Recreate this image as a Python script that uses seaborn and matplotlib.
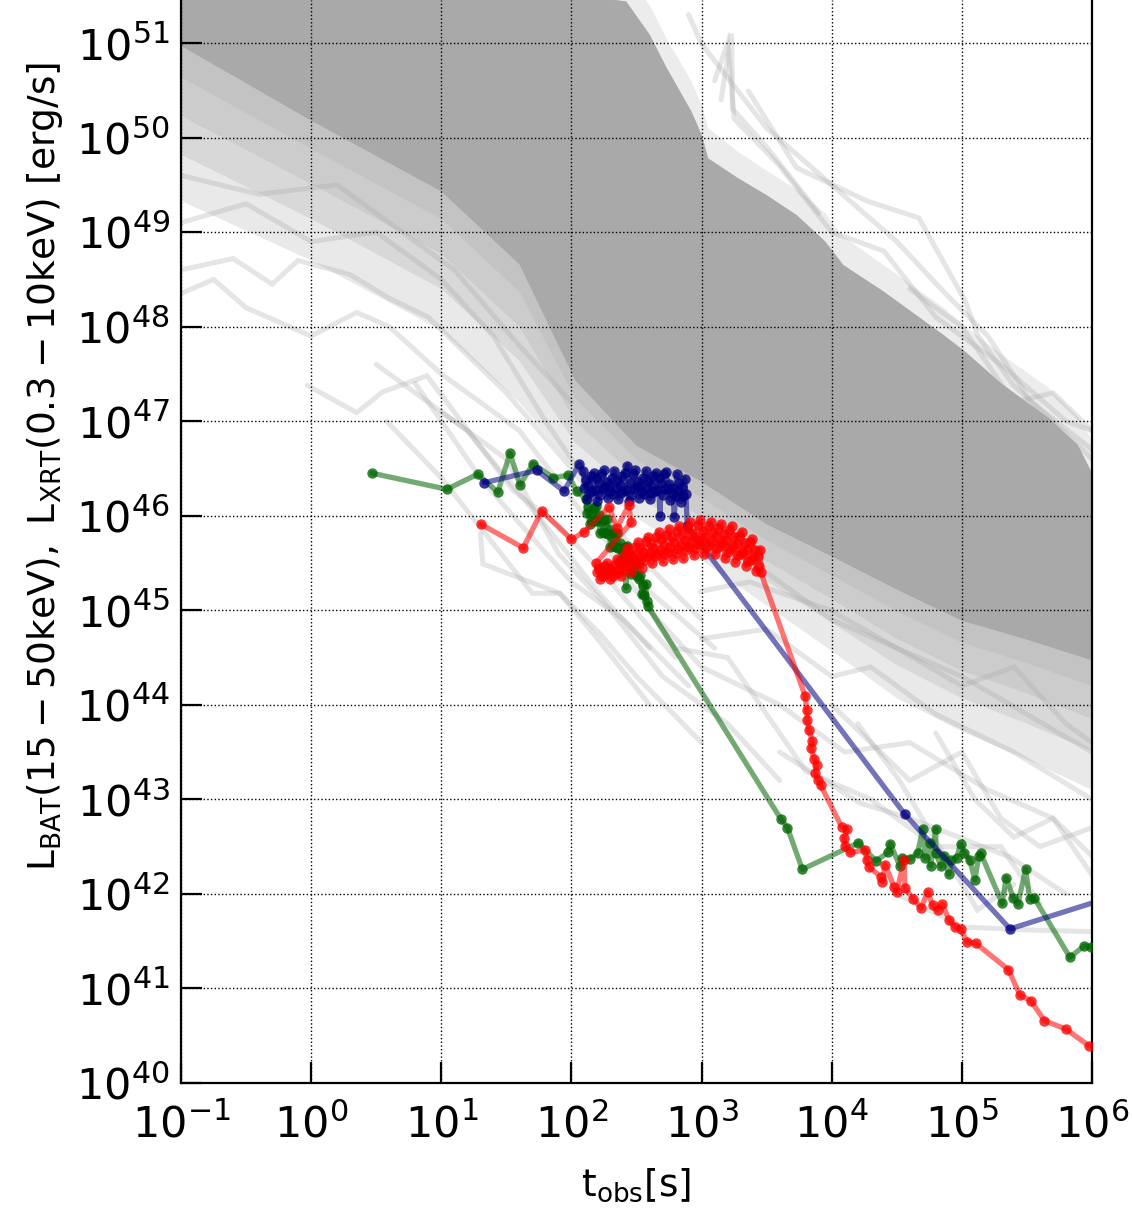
import numpy as np
import matplotlib
matplotlib.use("Agg")
import matplotlib.pyplot as plt
import matplotlib.ticker as mticker
import matplotlib.colors as mcolors
import seaborn as sns

# ---------------- data (log10 t [s], log10 L [erg/s]) ----------------
# green burst
green_t = [0.468, 1.042, 1.280, 1.434, 1.528, 1.605, 1.707, 1.861, 1.976, 2.040,
           2.11, 2.12, 2.13, 2.14, 2.15, 2.16, 2.17, 2.18, 2.19, 2.20,
           2.21, 2.22, 2.23, 2.24, 2.25, 2.26, 2.27, 2.28, 2.29, 2.30,
           2.31, 2.32, 2.33, 2.34, 2.35, 2.36, 2.37, 2.38, 2.39, 2.40,
           2.41, 2.42, 2.43, 2.44, 2.45, 2.46, 2.47, 2.48, 2.49, 2.50,
           2.51, 2.52, 2.53, 2.54, 2.55, 2.56, 2.57, 2.58, 2.585,
           3.61, 3.66, 3.774, 4.205, 4.34, 4.435, 4.45, 4.525, 4.54, 4.60, 4.66,
           4.70, 4.72, 4.755, 4.76, 4.80, 4.80, 4.84, 4.865, 4.90, 4.92, 4.96,
           4.99, 5.02, 5.06, 5.10, 5.13, 5.145, 5.31, 5.34, 5.395, 5.43, 5.49,
           5.52, 5.555, 5.83, 5.94, 5.99]
green_L = [46.45, 46.28, 46.44, 46.25, 46.66, 46.33, 46.55, 46.40, 46.43, 46.26,
           46.18, 46.03, 46.09, 45.91, 46.03, 45.94, 46.08, 45.94, 46.10, 45.95,
           46.01, 45.82, 45.93, 45.83, 45.96, 45.82, 45.97, 45.81, 45.86, 45.67,
           45.78, 45.68, 45.82, 45.67, 45.82, 45.66, 45.71, 45.53, 45.64, 45.54,
           45.67, 45.24, 45.68, 45.52, 45.57, 45.38, 45.50, 45.40, 45.52, 45.36,
           45.50, 45.33, 45.37, 45.17, 45.27, 45.16, 45.28, 45.10, 45.05,
           42.79, 42.70, 42.26, 42.54, 42.35, 42.44, 42.53, 42.29, 42.38, 42.37, 42.43,
           42.69, 42.38, 42.54, 42.30, 42.69, 42.43, 42.29, 42.40, 42.21, 42.36, 42.38,
           42.53, 42.43, 42.36, 42.15, 42.40, 42.43, 41.90, 42.17, 41.96, 41.89, 42.26,
           41.95, 41.96, 41.33, 41.45, 41.44]

# blue burst
blue_t = [1.33, 1.733, 1.943, 2.06,
          2.09, 2.10, 2.11, 2.12, 2.13, 2.14, 2.15, 2.16, 2.17, 2.18, 2.19, 2.20,
          2.21, 2.22, 2.23, 2.24, 2.25, 2.26, 2.27, 2.28, 2.29, 2.30, 2.31, 2.32,
          2.33, 2.34, 2.35, 2.36, 2.37, 2.38, 2.39, 2.40, 2.41, 2.42, 2.43, 2.44,
          2.45, 2.46, 2.47, 2.48, 2.49, 2.50, 2.51, 2.52, 2.53, 2.54, 2.55, 2.56,
          2.57, 2.58, 2.59, 2.60, 2.61, 2.62, 2.63, 2.64, 2.65, 2.66, 2.67, 2.68,
          2.69, 2.70, 2.71, 2.72, 2.73, 2.74, 2.75, 2.76, 2.77, 2.78, 2.79, 2.80,
          2.81, 2.82, 2.83, 2.84, 2.85, 2.86, 2.87, 2.88, 2.89,
          4.563, 5.37, 6.2]
blue_L = [46.35, 46.48, 46.26, 46.55,
          46.47, 46.29, 46.38, 46.18, 46.33, 46.24, 46.42, 46.26, 46.45, 46.27, 46.40, 46.16,
          46.35, 46.22, 46.44, 46.28, 46.48, 46.30, 46.36, 46.19, 46.31, 46.25, 46.40, 46.23,
          46.47, 46.29, 46.38, 46.18, 46.33, 46.24, 46.42, 46.26, 46.45, 46.27, 46.53, 46.16,
          46.35, 46.22, 46.44, 46.28, 46.48, 46.30, 46.36, 46.19, 46.31, 46.25, 46.40, 46.23,
          46.47, 46.29, 46.38, 46.18, 46.33, 46.24, 46.42, 46.26, 46.45, 46.27, 46.40, 46.00,
          46.35, 46.22, 46.44, 46.28, 46.46, 46.28, 46.34, 46.17, 46.29, 46.23, 45.99, 46.21,
          46.44, 46.26, 46.35, 46.15, 46.30, 46.21, 46.39, 46.23, 45.89,
          42.84, 41.63, 41.99]

# red burst
red_t = [1.305, 1.63, 1.772, 2.00, 2.10, 2.29, 2.35, 2.44, 2.46,
         2.19, 2.20, 2.21, 2.22, 2.23, 2.24, 2.25, 2.26, 2.27, 2.28,
         2.29, 2.30, 2.31, 2.32, 2.33, 2.34, 2.35, 2.36, 2.37, 2.38,
         2.39, 2.40, 2.41, 2.42, 2.43, 2.44, 2.45, 2.46, 2.47, 2.48,
         2.49, 2.50, 2.51, 2.52, 2.53, 2.54, 2.55, 2.56, 2.57, 2.58,
         2.59, 2.60, 2.61, 2.62, 2.63, 2.64, 2.65, 2.66, 2.67, 2.68,
         2.69, 2.70, 2.71, 2.72, 2.73, 2.74, 2.75, 2.76, 2.77, 2.78,
         2.79, 2.80, 2.81, 2.82, 2.83, 2.84, 2.85, 2.86, 2.87, 2.88,
         2.89, 2.90, 2.91, 2.92, 2.93, 2.94, 2.95, 2.96, 2.97, 2.98,
         2.99, 3.00, 3.01, 3.02, 3.03, 3.04, 3.05, 3.06, 3.07, 3.08,
         3.09, 3.10, 3.11, 3.12, 3.13, 3.14, 3.15, 3.16, 3.17, 3.18,
         3.19, 3.20, 3.21, 3.22, 3.23, 3.24, 3.25, 3.26, 3.27, 3.28,
         3.29, 3.30, 3.31, 3.32, 3.33, 3.34, 3.35, 3.36, 3.37, 3.38,
         3.39, 3.40, 3.41, 3.42, 3.43, 3.44, 3.45, 3.455,
         3.797, 3.808, 3.812, 3.826, 3.851, 3.841, 3.866, 3.885, 3.874, 3.897,
         3.915, 4.076, 4.115, 4.097, 4.102, 4.14, 4.256, 4.27, 4.29, 4.38, 4.39,
         4.41, 4.48, 4.50, 4.556, 4.563, 4.627, 4.686, 4.737, 4.775, 4.814, 4.85,
         4.904, 4.948, 4.99, 5.042, 5.105, 5.357, 5.447, 5.531, 5.634, 5.80, 5.98]
red_L = [45.91, 45.66, 46.05, 45.75, 45.83, 46.09, 45.87, 46.11, 45.93,
         45.50, 45.40, 45.45, 45.33, 45.42, 45.36, 45.47, 45.38, 45.50, 45.40,
         45.45, 45.33, 45.42, 45.36, 45.48, 45.39, 45.54, 45.43, 45.51, 45.36,
         45.50, 45.43, 45.60, 45.47, 45.66, 45.52, 45.60, 45.41, 45.57, 45.49,
         45.67, 45.52, 45.72, 45.56, 45.66, 45.45, 45.62, 45.53, 45.73, 45.57,
         45.78, 45.61, 45.70, 45.50, 45.66, 45.57, 45.77, 45.60, 45.83, 45.64,
         45.75, 45.52, 45.69, 45.60, 45.80, 45.62, 45.86, 45.67, 45.77, 45.54,
         45.72, 45.61, 45.84, 45.65, 45.89, 45.69, 45.80, 45.55, 45.74, 45.64,
         45.87, 45.67, 45.93, 45.72, 45.82, 45.58, 45.77, 45.66, 45.90, 45.70,
         45.95, 45.74, 45.84, 45.59, 45.78, 45.67, 45.89, 45.69, 45.93, 45.73,
         45.83, 45.59, 45.77, 45.66, 45.87, 45.68, 45.91, 45.71, 45.81, 45.55,
         45.74, 45.62, 45.85, 45.65, 45.89, 45.68, 45.77, 45.51, 45.70, 45.58,
         45.79, 45.59, 45.83, 45.62, 45.71, 45.47, 45.64, 45.52, 45.72, 45.53,
         45.75, 45.56, 45.64, 45.42, 45.57, 45.47, 45.64, 45.40,
         44.09, 43.94, 43.84, 43.73, 43.62, 43.54, 43.43, 43.36, 43.28, 43.20,
         43.15, 42.71, 42.69, 42.59, 42.51, 42.44, 42.46, 42.36, 42.28, 42.18, 42.13,
         42.31, 42.07, 42.02, 42.36, 42.06, 41.95, 41.85, 42.02, 41.88, 41.83, 41.89,
         41.72, 41.65, 41.63, 41.49, 41.48, 41.20, 40.93, 40.87, 40.66, 40.57, 40.39]

# background GRB sample: outline of the saturated (densest) region
core_up_t = [-1.0, 2.42, 2.60, 2.73, 2.92, 3.00, 3.05, 3.28, 3.50, 3.73, 3.95, 4.09,
             4.40, 4.86, 5.03, 5.31, 5.67, 5.89, 6.0]
core_up_L = [52.0, 51.44, 51.09, 50.74, 50.28, 50.03, 49.78, 49.57, 49.39, 49.18, 48.90, 48.65,
             48.37, 47.91, 47.73, 47.39, 47.03, 46.75, 46.45]
# thin sparse fringe just above the saturated region
fringe_up_L = [52.0, 51.7, 51.4, 51.05, 50.6, 50.35, 50.1, 49.85, 49.65, 49.45, 49.2, 48.95,
               48.65, 48.2, 48.0, 47.7, 47.35, 47.05, 46.8]
env_t = [-1.0, 0.0, 1.0, 1.6, 2.03, 2.5, 3.0, 3.5, 4.0, 4.5, 5.0, 5.5, 6.0]
core_lo_L = [50.97, 50.18, 49.43, 48.66, 47.43, 46.74, 46.36, 45.91, 45.57, 45.22, 44.89, 44.69, 44.47]
# lower edges of progressively sparser density envelopes (dense -> sparse)
env1_lo_L = [50.64, 49.88, 49.14, 48.37, 47.24, 46.59, 46.19, 45.74, 45.37, 44.99, 44.66, 44.44, 44.20]
env2_lo_L = [50.23, 49.51, 48.77, 48.00, 47.00, 46.40, 45.99, 45.52, 45.12, 44.70, 44.36, 44.12, 43.85]
env3_lo_L = [49.82, 49.14, 48.40, 47.64, 46.77, 46.21, 45.78, 45.31, 44.87, 44.42, 44.07, 43.80, 43.51]
env4_lo_L = [49.33, 48.70, 47.96, 47.20, 46.48, 45.98, 45.53, 45.05, 44.57, 44.07, 43.72, 43.42, 43.10]

# individual faint background light curves
gray_tracks = [
    ([2.9, 3.0, 3.5, 4.09, 4.5, 4.86, 5.2, 5.53, 6.0], [51.3, 50.99, 50.1, 49.39, 48.9, 48.37, 47.9, 47.21, 46.7]),
    ([3.36, 3.73, 4.27, 4.67, 5.03, 5.12, 5.39, 5.89, 6.0], [50.49, 49.68, 49.33, 49.15, 48.26, 47.91, 47.39, 46.75, 46.6]),
    ([3.1, 3.2, 3.25, 3.6, 4.0, 4.4, 4.8, 5.3, 5.8, 6.0], [50.6, 51.0, 50.2, 49.7, 49.0, 48.8, 48.1, 47.6, 47.0, 46.9]),
    ([3.15, 3.23, 3.24, 3.5, 3.9], [50.4, 51.1, 50.3, 49.9, 49.2]),
    ([4.6, 5.0, 5.4, 5.7, 6.0], [48.4, 48.0, 47.2, 47.3, 46.9]),
    ([-1.0, -0.6, -0.3, -0.1, 0.3, 0.6, 0.9, 1.5, 2.0, 2.5, 3.0], [48.6, 48.72, 48.45, 48.7, 48.55, 48.3, 48.1, 47.3, 46.5, 45.6, 44.9]),
    ([-1.0, -0.75, -0.5, 0.0, 0.35, 0.6, 1.0, 1.6, 2.1, 2.6, 3.1], [48.35, 48.5, 48.2, 47.9, 48.15, 48.0, 47.5, 46.9, 46.0, 45.2, 44.6]),
    ([-0.03, 0.35, 0.55, 0.89, 1.55, 1.9, 2.3, 2.8], [47.38, 47.09, 47.31, 47.48, 46.27, 45.9, 45.3, 44.5]),
    ([0.58, 1.0, 1.7, 1.91, 2.2, 2.6], [47.0, 46.4, 45.18, 45.18, 44.7, 44.0]),
    ([1.30, 1.32, 1.91, 2.22, 2.5, 3.0], [45.81, 45.49, 45.18, 44.75, 44.3, 43.6]),
    ([-1.0, -0.5, 0.0, 0.5, 1.0, 1.4, 1.8, 2.2], [49.1, 49.3, 48.9, 49.0, 48.5, 47.9, 47.0, 46.2]),
    ([-1.0, -0.4, 0.2, 0.7, 1.1, 1.6, 2.0], [49.6, 49.4, 49.5, 49.0, 48.6, 47.8, 47.2]),
    ([0.5, 1.2, 1.8, 2.2, 2.6], [47.6, 46.9, 45.9, 45.2, 44.6]),
    ([0.8, 1.3, 1.55, 2.0, 2.4, 2.9], [47.4, 46.4, 46.0, 45.3, 44.9, 44.2]),
    ([1.0, 1.5, 1.9, 2.3, 2.7, 3.2, 3.6], [47.1, 46.6, 45.6, 45.0, 44.3, 43.8, 43.2]),
    ([2.99, 3.37, 3.99, 4.5, 5.0, 5.5, 6.0], [45.2, 45.3, 45.0, 44.6, 44.3, 43.9, 43.5]),
    ([3.0, 3.5, 4.0, 4.3, 4.8, 5.4, 6.0], [44.7, 44.8, 44.3, 44.4, 43.9, 43.5, 43.0]),
    ([2.6, 3.0, 3.6, 4.1, 4.6, 5.2, 5.7, 6.0], [45.0, 44.4, 44.0, 43.5, 43.6, 43.1, 42.8, 42.4]),
    ([3.5, 4.0, 4.5, 5.0, 5.4, 5.8, 6.0], [45.4, 44.9, 44.6, 44.2, 44.4, 43.8, 43.6]),
    ([3.6, 4.22, 4.6, 5.37, 5.8], [43.5, 42.96, 42.8, 42.39, 42.0]),
    ([4.5, 5.01, 5.5, 6.0], [42.0, 41.65, 41.62, 41.6]),
    ([4.2, 4.52, 5.12, 5.4], [43.8, 43.2, 41.83, 42.1]),
    ([4.0, 4.6, 5.0, 5.3, 5.6, 6.0], [44.0, 43.2, 43.5, 42.8, 42.5, 42.7]),
    ([4.8, 5.1, 5.4, 5.7, 6.0], [43.7, 43.0, 42.6, 42.8, 42.2]),
    ([2.3, 2.8, 3.2, 3.8, 4.3, 4.8, 5.3, 5.6], [45.6, 44.6, 44.5, 43.3, 43.0, 42.5, 42.5, 41.9]),
]

xticks_exp = [-1, 0, 1, 2, 3, 4, 5, 6]
yticks_exp = list(range(40, 52))

# ---------------- style ----------------
sns.set_theme(style="white")
plt.rcParams["font.family"] = ["DejaVu Sans"]
plt.rcParams["mathtext.fontset"] = "dejavusans"
plt.rcParams["text.color"] = "black"
plt.rcParams["axes.labelcolor"] = "black"
plt.rcParams["xtick.color"] = "black"
plt.rcParams["ytick.color"] = "black"

W, H = 1132, 1211
fig = plt.figure(figsize=(W / 100, H / 100), dpi=100)
ax = fig.add_axes([181 / W, 128 / H, 911 / W, 1083 / H])
ax.set_xscale("log")
ax.set_yscale("log")

p10 = lambda a: np.power(10.0, np.asarray(a, dtype=float))

def band(up_t, up_L, lo_t, lo_L, alpha, z):
    xs = np.concatenate([p10(up_t), p10(lo_t)[::-1]])
    ys = np.concatenate([p10(up_L), p10(lo_L)[::-1]])
    ax.fill(xs, ys, color="darkgray", alpha=alpha, lw=0, zorder=z)

band(core_up_t, fringe_up_L, core_up_t, core_up_L, 0.22, 0.7)
for k, lo in enumerate([env4_lo_L, env3_lo_L, env2_lo_L, env1_lo_L]):
    band(core_up_t, core_up_L, env_t, lo, 0.25, 0.8 + 0.02 * k)
band(core_up_t, core_up_L, env_t, core_lo_L, 1.0, 1.0)

for tt, LL in gray_tracks:
    ax.plot(p10(tt), p10(LL), color="darkgray", alpha=0.3, lw=3.6,
            solid_joinstyle="miter", zorder=1.1)

def burst(t, L, cname):
    sns.lineplot(x=p10(t), y=p10(L), color=cname, sort=False, estimator=None,
                 marker="o", markersize=7.5, markeredgewidth=0, linewidth=3.8,
                 ax=ax, zorder=3)
    ln = ax.lines[-1]
    ln.set_alpha(None)
    ln.set_color(mcolors.to_rgba(cname, 0.55))
    ln.set_markerfacecolor(mcolors.to_rgba(cname, 0.78))
    ln.set_markeredgecolor("none")

burst(green_t, green_L, "darkgreen")
burst(blue_t, blue_L, "navy")
burst(red_t, red_L, "red")

ax.set_xlim(1e-1, 1e6)
ax.set_ylim(1e40, 10 ** 51.455)
ax.xaxis.set_major_locator(mticker.FixedLocator(p10(xticks_exp)))
ax.yaxis.set_major_locator(mticker.FixedLocator(p10(yticks_exp)))
ax.xaxis.set_major_formatter(mticker.LogFormatterSciNotation())
ax.yaxis.set_major_formatter(mticker.LogFormatterSciNotation())
ax.xaxis.set_minor_locator(mticker.NullLocator())
ax.yaxis.set_minor_locator(mticker.NullLocator())

ax.grid(True, which="major", color="black", linestyle=":", linewidth=1.0, zorder=2.5)
ax.set_axisbelow(False)
ax.tick_params(axis="both", which="major", direction="in", length=15, width=1.6,
               labelsize=31, colors="black", left=True, bottom=True, right=False, top=False)
ax.tick_params(axis="x", pad=15)
ax.tick_params(axis="y", pad=8)

for side in ["left", "bottom", "right"]:
    ax.spines[side].set_visible(True)
    ax.spines[side].set_color("black")
    ax.spines[side].set_linewidth(1.6)
ax.spines["top"].set_visible(False)

ax.set_xlabel(r"$\mathrm{t_{obs}[s]}$", fontsize=27)
ax.set_ylabel(r"$\mathrm{L_{BAT}(15-50keV),\ L_{XRT}(0.3-10keV)\ [erg/s]}$", fontsize=27)
ax.xaxis.set_label_coords(0.5, -0.0766)
ax.yaxis.set_label_coords(-0.127, 0.569)

fig.savefig("out.png", dpi=100, facecolor="white")
